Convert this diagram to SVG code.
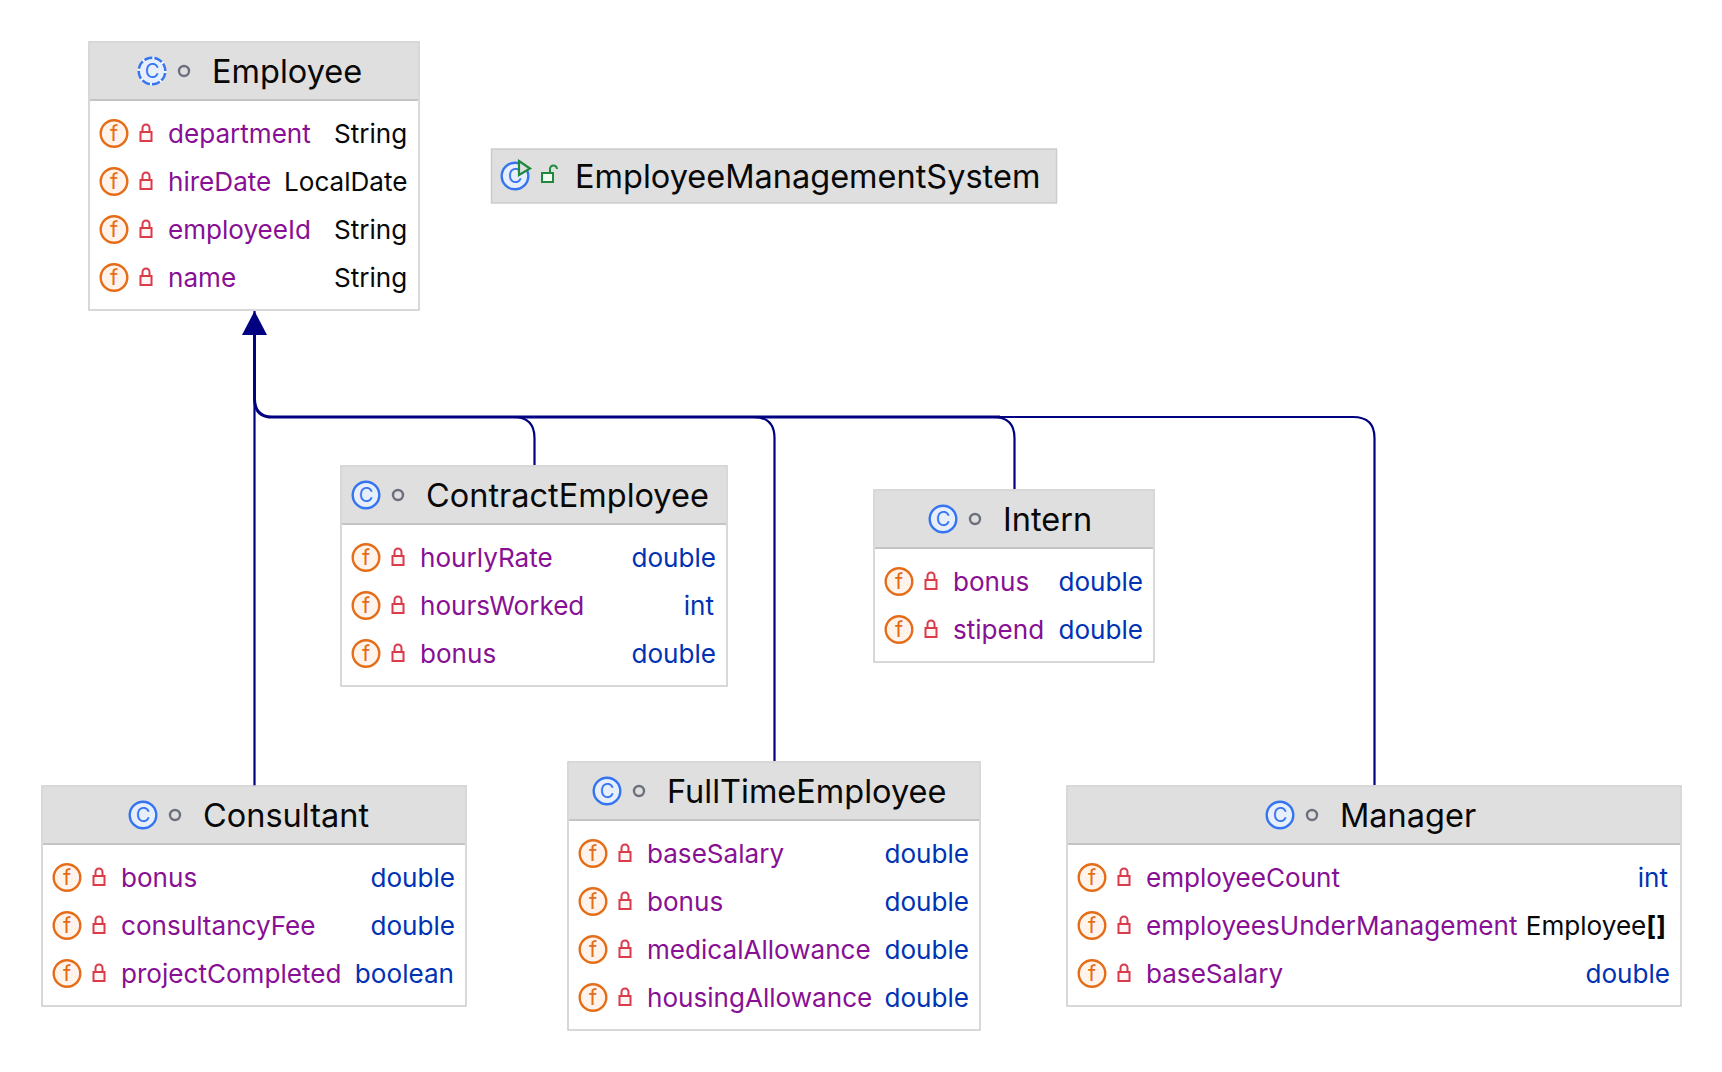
<svg xmlns="http://www.w3.org/2000/svg" width="1722" height="1072" viewBox="0 0 1722 1072">
<style>
text{font-family:Inter,"Liberation Sans",sans-serif;}
.box{fill:#fff;stroke:#cccccc;stroke-width:1.500}
.hd{fill:#dfdfdf}
.hl{stroke:#c4c4c4;stroke-width:2;fill:none}
.title{font-size:32.500px;fill:#080808}
.n{font-size:26.080px;fill:#871094}
.t{font-size:26.100px;fill:#080808}
.b{font-size:26.100px;fill:#0033b3}
.e{text-anchor:end}
.fl{font-size:22px;fill:#e66d17;text-anchor:middle}
.cl{font-size:20px;fill:#3574f0;text-anchor:middle}
.c{fill:none;stroke:#000080;stroke-width:2.200}
.tr{fill:none;stroke:#000080;stroke-width:2.900}
</style>
<defs>
<g id="fic"><circle cy="0.500" r="13.300" fill="#fff3eb" stroke="#e66d17" stroke-width="2.400"/></g>
<g id="lock"><rect x="-5.500" y="-1" width="11" height="9" fill="#fff5f5" stroke="#db3b4b" stroke-width="2"/><path d="M-3.500-1V-5a3.500 3.500 0 0 1 7 0V-1" fill="none" stroke="#db3b4b" stroke-width="2"/></g>
<g id="dot"><circle r="5" fill="none" stroke="#6c707e" stroke-width="2.400"/></g>
<g id="cic"><circle r="13.300" fill="#e7effd" stroke="#3574f0" stroke-width="2.400"/></g>
<marker id="arrow" markerUnits="userSpaceOnUse" markerWidth="26" markerHeight="26" refX="24" refY="13" orient="auto"><path d="M0 0.500L24 13L0 25.500Z" fill="#000080"/></marker>
</defs>
<g id="connectors">
<path class="c" d="M254.500 786V311" marker-end="url(#arrow)"/>
<path class="c" d="M534.500 465V438Q534.500 417 513 417"/>
<path class="c" d="M774.500 761V438Q774.500 417 753 417"/>
<path class="c" d="M1014.500 489V438Q1014.500 417 993 417"/>
<path class="c" d="M1374.500 785V438Q1374.500 417 1353 417H1000"/>
<path class="tr" d="M1000 417H272Q254.500 417 254.500 398V330"/>
</g>
<g id="Employee">
<rect class="box" x="89" y="42" width="330" height="268"/><rect class="hd" x="90" y="43" width="328" height="57"/><path class="hl" d="M90 100H418"/>
<use href="#cic" x="152" y="71"/><circle cx="152" cy="71" r="13.300" fill="none" stroke="#fff" stroke-width="3" stroke-dasharray="2 8.450"/><text class="cl" x="152" y="78">C</text><use href="#dot" x="184" y="71"/><text class="title" x="212" y="83">Employee</text>
<use href="#fic" x="114" y="133"/><text class="fl" x="114" y="141">f</text><use href="#lock" x="146" y="133"/><text class="n" x="168" y="143">department</text><text class="t" x="334" y="143">String</text>
<use href="#fic" x="114" y="181"/><text class="fl" x="114" y="189">f</text><use href="#lock" x="146" y="181"/><text class="n" x="168" y="191">hireDate</text><text class="t" x="284" y="191">LocalDate</text>
<use href="#fic" x="114" y="229"/><text class="fl" x="114" y="237">f</text><use href="#lock" x="146" y="229"/><text class="n" x="168" y="239">employeeId</text><text class="t" x="334" y="239">String</text>
<use href="#fic" x="114" y="277"/><text class="fl" x="114" y="285">f</text><use href="#lock" x="146" y="277"/><text class="n" x="168" y="287">name</text><text class="t" x="334" y="287">String</text>
</g>
<g id="EmployeeManagementSystem">
<rect class="hd" x="491.500" y="149" width="565" height="54" stroke="#cccccc" stroke-width="1.500"/>
<use href="#cic" x="515" y="176"/><text class="cl" x="515" y="183">C</text><path d="M519 161L530 168.500L519 175Z" fill="#dfdfdf" stroke="#208a3c" stroke-width="2.200"/>
<rect x="542" y="173" width="11" height="9" fill="#f2fcf3" stroke="#208a3c" stroke-width="2"/><path d="M550 173V169a3.500 3.500 0 0 1 7 0" fill="none" stroke="#208a3c" stroke-width="2"/>
<text class="title" x="575" y="188">EmployeeManagementSystem</text>
</g>
<g id="ContractEmployee">
<rect class="box" x="341" y="466" width="386" height="220"/><rect class="hd" x="342" y="467" width="384" height="57"/><path class="hl" d="M342 524H726"/>
<use href="#cic" x="366" y="495"/><text class="cl" x="366" y="502">C</text><use href="#dot" x="398" y="495"/><text class="title" x="426" y="507">ContractEmployee</text>
<use href="#fic" x="366" y="557"/><text class="fl" x="366" y="565">f</text><use href="#lock" x="398" y="557"/><text class="n" x="420" y="567">hourlyRate</text><text class="b e" x="716" y="567">double</text>
<use href="#fic" x="366" y="605"/><text class="fl" x="366" y="613">f</text><use href="#lock" x="398" y="605"/><text class="n" x="420" y="615">hoursWorked</text><text class="b e" x="714" y="615">int</text>
<use href="#fic" x="366" y="653"/><text class="fl" x="366" y="661">f</text><use href="#lock" x="398" y="653"/><text class="n" x="420" y="663">bonus</text><text class="b e" x="716" y="663">double</text>
</g>
<g id="Intern">
<rect class="box" x="874" y="490" width="280" height="172"/><rect class="hd" x="875" y="491" width="278" height="57"/><path class="hl" d="M875 548H1153"/>
<use href="#cic" x="943" y="519"/><text class="cl" x="943" y="526">C</text><use href="#dot" x="975" y="519"/><text class="title" x="1003" y="531">Intern</text>
<use href="#fic" x="899" y="581"/><text class="fl" x="899" y="589">f</text><use href="#lock" x="931" y="581"/><text class="n" x="953" y="591">bonus</text><text class="b e" x="1143" y="591">double</text>
<use href="#fic" x="899" y="629"/><text class="fl" x="899" y="637">f</text><use href="#lock" x="931" y="629"/><text class="n" x="953" y="639">stipend</text><text class="b e" x="1143" y="639">double</text>
</g>
<g id="Consultant">
<rect class="box" x="42" y="786" width="424" height="220"/><rect class="hd" x="43" y="787" width="422" height="57"/><path class="hl" d="M43 844H465"/>
<use href="#cic" x="143" y="815"/><text class="cl" x="143" y="822">C</text><use href="#dot" x="175" y="815"/><text class="title" x="203" y="827">Consultant</text>
<use href="#fic" x="67" y="877"/><text class="fl" x="67" y="885">f</text><use href="#lock" x="99" y="877"/><text class="n" x="121" y="887">bonus</text><text class="b e" x="455" y="887">double</text>
<use href="#fic" x="67" y="925"/><text class="fl" x="67" y="933">f</text><use href="#lock" x="99" y="925"/><text class="n" x="121" y="935">consultancyFee</text><text class="b e" x="455" y="935">double</text>
<use href="#fic" x="67" y="973"/><text class="fl" x="67" y="981">f</text><use href="#lock" x="99" y="973"/><text class="n" x="121" y="983">projectCompleted</text><text class="b e" x="454" y="983">boolean</text>
</g>
<g id="FullTimeEmployee">
<rect class="box" x="568" y="762" width="412" height="268"/><rect class="hd" x="569" y="763" width="410" height="57"/><path class="hl" d="M569 820H979"/>
<use href="#cic" x="607" y="791"/><text class="cl" x="607" y="798">C</text><use href="#dot" x="639" y="791"/><text class="title" x="667" y="803">FullTimeEmployee</text>
<use href="#fic" x="593" y="853"/><text class="fl" x="593" y="861">f</text><use href="#lock" x="625" y="853"/><text class="n" x="647" y="863">baseSalary</text><text class="b e" x="969" y="863">double</text>
<use href="#fic" x="593" y="901"/><text class="fl" x="593" y="909">f</text><use href="#lock" x="625" y="901"/><text class="n" x="647" y="911">bonus</text><text class="b e" x="969" y="911">double</text>
<use href="#fic" x="593" y="949"/><text class="fl" x="593" y="957">f</text><use href="#lock" x="625" y="949"/><text class="n" x="647" y="959">medicalAllowance</text><text class="b e" x="969" y="959">double</text>
<use href="#fic" x="593" y="997"/><text class="fl" x="593" y="1005">f</text><use href="#lock" x="625" y="997"/><text class="n" x="647" y="1007">housingAllowance</text><text class="b e" x="969" y="1007">double</text>
</g>
<g id="Manager">
<rect class="box" x="1067" y="786" width="614" height="220"/><rect class="hd" x="1068" y="787" width="612" height="57"/><path class="hl" d="M1068 844H1680"/>
<use href="#cic" x="1280" y="815"/><text class="cl" x="1280" y="822">C</text><use href="#dot" x="1312" y="815"/><text class="title" x="1340" y="827">Manager</text>
<use href="#fic" x="1092" y="877"/><text class="fl" x="1092" y="885">f</text><use href="#lock" x="1124" y="877"/><text class="n" x="1146" y="887">employeeCount</text><text class="b e" x="1668" y="887">int</text>
<use href="#fic" x="1092" y="925"/><text class="fl" x="1092" y="933">f</text><use href="#lock" x="1124" y="925"/><text class="n" x="1146" y="935">employeesUnderManagement</text><text class="t e" x="1666" y="935">Employee<tspan font-weight="700">[]</tspan></text>
<use href="#fic" x="1092" y="973"/><text class="fl" x="1092" y="981">f</text><use href="#lock" x="1124" y="973"/><text class="n" x="1146" y="983">baseSalary</text><text class="b e" x="1670" y="983">double</text>
</g>
</svg>
